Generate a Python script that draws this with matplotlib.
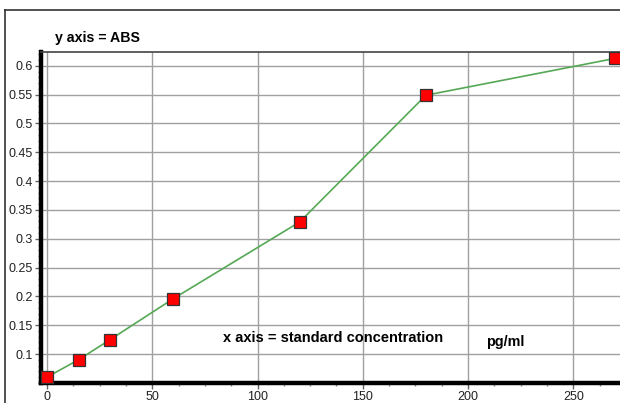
import matplotlib
matplotlib.use("Agg")
import matplotlib.pyplot as plt
from matplotlib.lines import Line2D
from matplotlib.ticker import MultipleLocator, FuncFormatter

conc = [0, 15, 30, 60, 120, 180, 270]
absorb = [0.060, 0.090, 0.125, 0.196, 0.329, 0.549, 0.613]
x_major = [0, 50, 100, 150, 200, 250]
y_major = [0.1, 0.15, 0.2, 0.25, 0.3, 0.35, 0.4, 0.45, 0.5, 0.55, 0.6]

plt.rcParams['font.family'] = ['Liberation Sans', 'DejaVu Sans']

W, H = 620, 403
fig = plt.figure(figsize=(W/100, H/100), dpi=100)

# outer frame
fig.add_artist(Line2D([5/W, 5/W], [0, 1-10/H], transform=fig.transFigure, color='#333333', lw=1.2))
fig.add_artist(Line2D([5/W, 1], [1-10/H, 1-10/H], transform=fig.transFigure, color='#333333', lw=1.2))

left, right, bottom, top = 41/W, 1.0, 1-383/H, 1-52/H
ax = fig.add_axes([left, bottom, right-left, top-bottom])

ax.plot(conc, absorb, color='#55a855', lw=1.2, zorder=3)
ax.plot(conc, absorb, ls='none', marker='s', ms=8, mfc='#ff0000', mec='#333333', mew=0.9, zorder=4, clip_on=False)

ax.set_xlim(-2.85, 272.2)
ax.set_ylim(0.0497, 0.624)
ax.set_xticks(x_major)
ax.set_yticks(y_major)
ax.xaxis.set_minor_locator(MultipleLocator(12.5))
ax.yaxis.set_minor_locator(MultipleLocator(0.01))
ax.yaxis.set_major_formatter(FuncFormatter(lambda v, p: ('%.2f' % v).rstrip('0').rstrip('.')))
ax.grid(True, which='major', color='#a0a0a0', lw=1.0)
ax.set_axisbelow(True)

ax.spines['right'].set_visible(False)
ax.spines['top'].set_color('#444444')
ax.spines['top'].set_linewidth(1.2)
ax.spines['left'].set_linewidth(3.2)
ax.spines['bottom'].set_linewidth(3.2)
ax.spines['left'].set_color('black')
ax.spines['bottom'].set_color('black')

ax.tick_params(axis='both', which='major', length=4, width=1, color='#666666', labelsize=9, labelcolor='#222222')
ax.tick_params(axis='both', which='minor', length=2.5, width=1, color='#888888')
ax.tick_params(axis='x', pad=2)
ax.tick_params(axis='y', pad=2)

fig.text(55/W, 1-38/H, 'y axis = ABS', fontsize=10.2, fontweight='bold', va='center', ha='left')
fig.text(223/W, 1-338/H, 'x axis = standard concentration', fontsize=10.5, fontweight='bold', va='center', ha='left')
fig.text(486/W, 1-342/H, 'pg/ml', fontsize=10.4, fontweight='bold', va='center', ha='left')

fig.savefig('out.png', dpi=100)
